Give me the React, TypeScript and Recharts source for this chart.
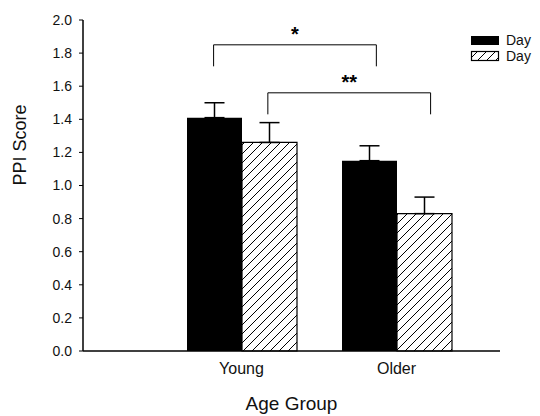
import { BarChart, Bar, XAxis, YAxis, ErrorBar, ReferenceLine, ReferenceDot } from "recharts";

const categories = ["Young", "Older"];
const seriesNames = ["Day", "Day"];
const dayA = [1.41, 1.15];
const dayAErr = [0.09, 0.09];
const dayB = [1.26, 0.83];
const dayBErr = [0.12, 0.1];
const yTicks = [0, 0.2, 0.4, 0.6, 0.8, 1.0, 1.2, 1.4, 1.6, 1.8, 2.0];

// significance brackets, x in category-index units (Young = 1, Older = 2)
const brackets = [
  { x1: 0.82, x2: 1.87, top: 1.85, leg: 1.72, mark: "*" },
  { x1: 1.17, x2: 2.22, top: 1.56, leg: 1.43, mark: "**" },
];

const data = categories.map((name, i) => ({
  name,
  pos: i + 1,
  dayA: dayA[i],
  dayAErr: [0, dayAErr[i]],
  dayB: dayB[i],
  dayBErr: [0, dayBErr[i]],
}));

const font = "'Liberation Sans', Arial, sans-serif";
const xPad = { left: 81, right: 26 };

const LegendBox = () => (
  <div style={{ position: "absolute", left: 470, top: 32, fontFamily: font, fontSize: 14, color: "#111", lineHeight: "16px" }}>
    <div style={{ display: "flex", alignItems: "center" }}>
      <svg width={30} height={12}><rect x={1} y={2} width={28} height={9} fill="#000" /></svg>
      <span style={{ marginLeft: 6 }}>{seriesNames[0]}</span>
    </div>
    <div style={{ display: "flex", alignItems: "center" }}>
      <svg width={30} height={12}><rect x={1.5} y={1.5} width={27} height={9} fill="url(#hatch)" stroke="#000" strokeWidth={1.2} /></svg>
      <span style={{ marginLeft: 6 }}>{seriesNames[1]}</span>
    </div>
  </div>
);

export default function App() {
  return (
    <div style={{ position: "absolute", left: 0, top: 0, width: 540, height: 416 }}>
      <svg width={0} height={0} style={{ position: "absolute" }}>
        <defs>
          <pattern id="hatch" patternUnits="userSpaceOnUse" width={9} height={9}>
            <rect width={9} height={9} fill="#fff" />
            <path d="M-1,1 l2,-2 M0,9 l9,-9 M8,10 l2,-2" stroke="#000" strokeWidth={1} />
          </pattern>
        </defs>
      </svg>
      <BarChart
        width={540}
        height={416}
        data={data}
        margin={{ top: 20, right: 40, bottom: 6, left: 0 }}
        barGap={0}
        barSize={55}
      >
        <XAxis
          dataKey="name"
          padding={xPad}
          tickLine={false}
          axisLine={{ stroke: "#000", strokeWidth: 1.5 }}
          tick={{ fill: "#111", fontSize: 16, fontFamily: font }}
          tickMargin={6}
          height={59}
          label={{ value: "Age Group", position: "insideBottom", offset: 0, fill: "#111", fontSize: 19, fontFamily: font }}
        />
        <XAxis xAxisId="num" dataKey="pos" type="number" domain={[0.5, 2.5]} allowDataOverflow padding={xPad} hide />
        <YAxis
          width={83}
          domain={[0, 2]}
          ticks={yTicks}
          tickFormatter={(v: number) => v.toFixed(1)}
          axisLine={{ stroke: "#000", strokeWidth: 1.5 }}
          tickLine={{ stroke: "#000" }}
          tickSize={4}
          tickMargin={7}
          tick={{ fill: "#111", fontSize: 14, fontFamily: font }}
          label={{ value: "PPI Score", angle: -90, position: "insideLeft", offset: 20, fill: "#111", fontSize: 18, fontFamily: font }}
        />
        <Bar dataKey="dayA" name={seriesNames[0]} fill="#000" isAnimationActive={false}>
          <ErrorBar dataKey="dayAErr" width={10} stroke="#000" strokeWidth={1.5} direction="y" />
        </Bar>
        <Bar dataKey="dayB" name={seriesNames[1]} fill="url(#hatch)" stroke="#000" strokeWidth={1.2} isAnimationActive={false}>
          <ErrorBar dataKey="dayBErr" width={10} stroke="#000" strokeWidth={1.5} direction="y" />
        </Bar>
        {brackets.map((b, i) => (
          <ReferenceLine key={`l${i}`} xAxisId="num" segment={[{ x: b.x1, y: b.leg }, { x: b.x1, y: b.top }]} stroke="#000" ifOverflow="visible" />
        ))}
        {brackets.map((b, i) => (
          <ReferenceLine key={`t${i}`} xAxisId="num" segment={[{ x: b.x1, y: b.top }, { x: b.x2, y: b.top }]} stroke="#000" ifOverflow="visible" />
        ))}
        {brackets.map((b, i) => (
          <ReferenceLine key={`r${i}`} xAxisId="num" segment={[{ x: b.x2, y: b.top }, { x: b.x2, y: b.leg }]} stroke="#000" ifOverflow="visible" />
        ))}
        {brackets.map((b, i) => (
          <ReferenceDot
            key={`m${i}`}
            xAxisId="num"
            x={(b.x1 + b.x2) / 2}
            y={b.top}
            r={0}
            ifOverflow="visible"
            label={{ value: b.mark, position: "top", offset: 4, fill: "#000", fontSize: 20, fontWeight: "bold", fontFamily: font }}
          />
        ))}
      </BarChart>
      <LegendBox />
    </div>
  );
}
